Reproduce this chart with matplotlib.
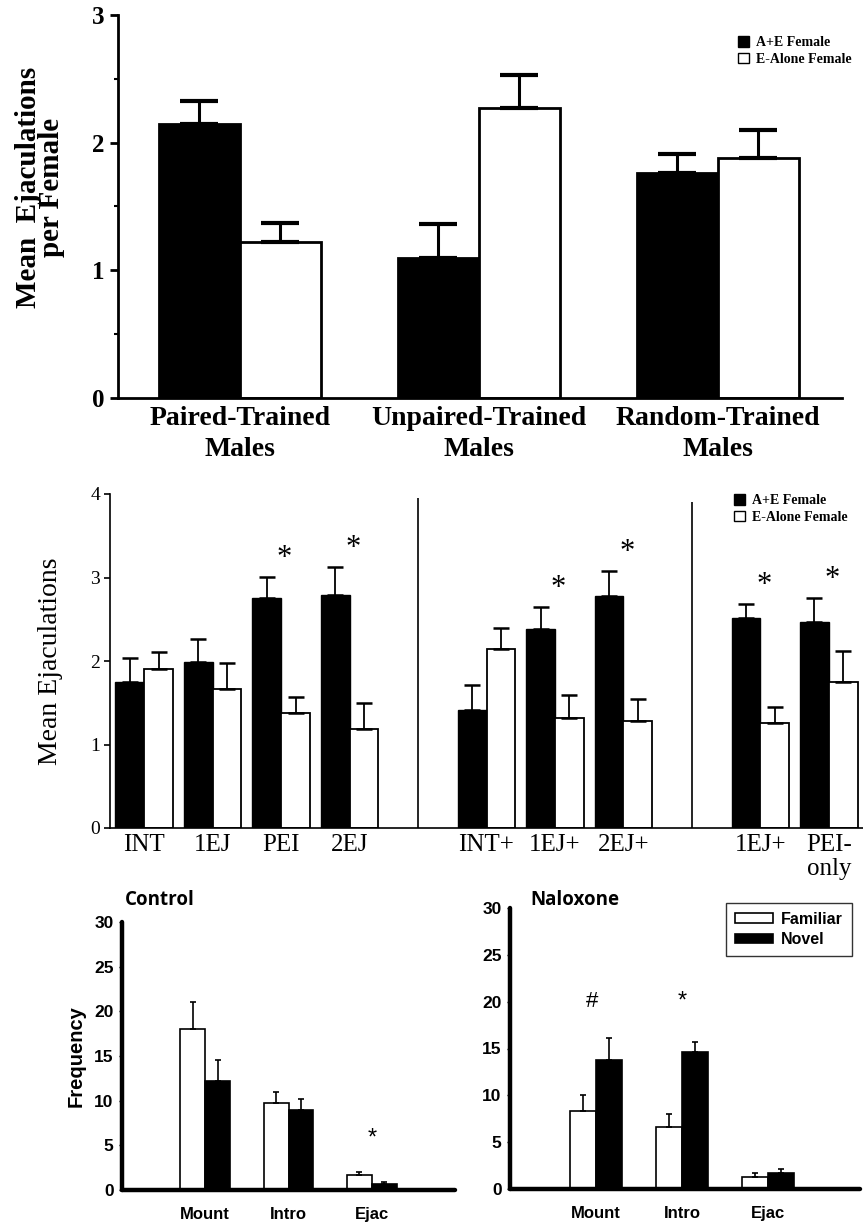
import numpy as np
import matplotlib
matplotlib.use('Agg')
import matplotlib.pyplot as plt
from matplotlib.patches import Patch

# ---------------- data ----------------
top_groups = ['Paired-Trained\nMales', 'Unpaired-Trained\nMales', 'Random-Trained\nMales']
top_ae_mean = [2.15, 1.10, 1.76]
top_ae_err = [0.18, 0.26, 0.15]
top_ea_mean = [1.22, 2.27, 1.88]
top_ea_err = [0.15, 0.26, 0.22]

mid_labels = ['INT', '1EJ', 'PEI', '2EJ', 'INT+', '1EJ+', '2EJ+', '1EJ+', 'PEI-\nonly']
mid_blocks = [4, 3, 2]
mid_ae_mean = [1.75, 1.99, 2.76, 2.79, 1.41, 2.38, 2.78, 2.51, 2.47]
mid_ae_err = [0.28, 0.27, 0.25, 0.34, 0.30, 0.27, 0.30, 0.17, 0.29]
mid_ea_mean = [1.90, 1.67, 1.38, 1.19, 2.14, 1.32, 1.28, 1.26, 1.75]
mid_ea_err = [0.21, 0.31, 0.19, 0.31, 0.26, 0.27, 0.26, 0.19, 0.37]
mid_sig = [False, False, True, True, False, True, True, True, True]

bot_cats = ['Mount', 'Intro', 'Ejac']
ctrl_fam = [18.0, 9.7, 1.7]
ctrl_fam_err = [3.1, 1.3, 0.3]
ctrl_nov = [12.2, 9.0, 0.7]
ctrl_nov_err = [2.3, 1.2, 0.2]
nal_fam = [8.3, 6.6, 1.3]
nal_fam_err = [1.7, 1.4, 0.4]
nal_nov = [13.8, 14.6, 1.7]
nal_nov_err = [2.3, 1.1, 0.4]
ctrl_marks = ['', '', '*']
nal_marks = ['#', '*', '']

W, H = 863, 1228
fig = plt.figure(figsize=(W / 100, H / 100), dpi=100)


def rect(l, r, t, b):
    return [l / W, 1 - b / H, (r - l) / W, (b - t) / H]


SERIF = 'Liberation Serif'
SANS = 'Liberation Sans'

# ---------------- top panel ----------------
ax1 = fig.add_axes(rect(118, 842, 15, 398))
x = np.arange(len(top_groups))
bw = 0.34
ax1.bar(x - bw / 2, top_ae_mean, bw, color='black', edgecolor='black', linewidth=2)
ax1.bar(x + bw / 2, top_ea_mean, bw, color='white', edgecolor='black', linewidth=2)
ax1.errorbar(x - bw / 2, top_ae_mean, yerr=[np.zeros(3), top_ae_err], fmt='none',
             ecolor='black', elinewidth=2.2, capsize=14, capthick=3)
ax1.errorbar(x + bw / 2, top_ea_mean, yerr=[np.zeros(3), top_ea_err], fmt='none',
             ecolor='black', elinewidth=2.2, capsize=14, capthick=3)
ax1.set_xlim(-0.51, 2.52)
ax1.set_ylim(0, 3)
ax1.set_yticks([0, 1, 2, 3])
ax1.set_yticks([0.5, 1.5, 2.5], minor=True)
ax1.set_xticks(x)
ax1.set_xticklabels(top_groups, fontfamily=SERIF, fontweight='bold', fontsize=20,
                    linespacing=1.3)
for lab in ax1.get_yticklabels():
    lab.set_fontfamily(SERIF)
    lab.set_fontweight('bold')
    lab.set_fontsize(18)
ax1.tick_params(axis='x', length=0, pad=6)
ax1.tick_params(axis='y', which='major', length=6, width=2, pad=4)
ax1.tick_params(axis='y', which='minor', length=3, width=1.5)
for s in ['top', 'right']:
    ax1.spines[s].set_visible(False)
for s in ['left', 'bottom']:
    ax1.spines[s].set_linewidth(2)
fig.text(40 / W, 1 - 187 / H, 'Mean  Ejaculations\nper Female', rotation=90,
         ha='center', va='center', multialignment='center', linespacing=0.85,
         fontfamily=SERIF, fontweight='bold', fontsize=21)
handles = [Patch(facecolor='black', edgecolor='black'),
           Patch(facecolor='white', edgecolor='black')]
fig.legend(handles, ['A+E Female', 'E-Alone Female'], loc='upper left',
           bbox_to_anchor=(731 / W, 1 - 29 / H), frameon=False, borderpad=0,
           handlelength=0.8, handleheight=0.8, handletextpad=0.5, labelspacing=0.25,
           prop={'family': SERIF, 'weight': 'bold', 'size': 10})

# ---------------- middle panel ----------------
ax2 = fig.add_axes(rect(110, 863, 494, 828))
pos = []
dividers = []
start = 0
for i, b in enumerate(mid_blocks):
    pos += list(range(start, start + b))
    start += b + 1
    if i < len(mid_blocks) - 1:
        dividers.append(start - 1)
pos = np.array(pos, dtype=float)
mw = 0.42
ax2.bar(pos - mw / 2, mid_ae_mean, mw, color='black', edgecolor='black', linewidth=1)
ax2.bar(pos + mw / 2, mid_ea_mean, mw, color='white', edgecolor='black', linewidth=1.3)
ax2.errorbar(pos - mw / 2, mid_ae_mean, yerr=[np.zeros(len(pos)), mid_ae_err], fmt='none',
             ecolor='black', elinewidth=1.3, capsize=5.5, capthick=1.8)
ax2.errorbar(pos + mw / 2, mid_ea_mean, yerr=[np.zeros(len(pos)), mid_ea_err], fmt='none',
             ecolor='black', elinewidth=1.3, capsize=5.5, capthick=1.8)
ae_top = np.array(mid_ae_mean) + np.array(mid_ae_err)
for p, sig, t in zip(pos, mid_sig, ae_top):
    if sig:
        ax2.text(p + 0.05, t + 0.22, '*', ha='center', va='center', fontfamily=SERIF,
                 fontsize=22)
ax2.vlines(dividers[0], 0, 3.95, color='black', linewidth=1.2)
ax2.vlines(dividers[1], 0, 3.9, color='black', linewidth=1.2)
ax2.set_xlim(-0.5, 10.5)
ax2.set_ylim(0, 4)
ax2.set_yticks([0, 1, 2, 3, 4])
ax2.set_xticks(pos)
ax2.set_xticklabels(mid_labels, fontfamily=SERIF, fontsize=18, linespacing=1.15, va='top')
for lab in ax2.get_yticklabels():
    lab.set_fontfamily(SERIF)
    lab.set_fontsize(14)
ax2.tick_params(axis='x', length=0, pad=4)
ax2.tick_params(axis='y', length=4, width=1.2, pad=3)
for s in ['top', 'right']:
    ax2.spines[s].set_visible(False)
for s in ['left', 'bottom']:
    ax2.spines[s].set_linewidth(1.2)
ax2.set_ylabel('Mean Ejaculations', fontfamily=SERIF, fontsize=20, labelpad=20)
fig.legend(handles, ['A+E Female', 'E-Alone Female'], loc='upper left',
           bbox_to_anchor=(727 / W, 1 - 487 / H), frameon=False, borderpad=0,
           handlelength=0.8, handleheight=0.8, handletextpad=0.5, labelspacing=0.25,
           prop={'family': SERIF, 'weight': 'bold', 'size': 10})

# ---------------- bottom panels ----------------
def bottom_panel(ax, fam, fam_err, nov, nov_err, marks, xmax, title, tx):
    xb = np.arange(1, len(bot_cats) + 1)
    bw2 = 0.3
    ax.bar(xb - bw2 / 2, fam, bw2, color='white', edgecolor='black', linewidth=1.2,
           label='Familiar')
    ax.bar(xb + bw2 / 2, nov, bw2, color='black', edgecolor='black', linewidth=1.2,
           label='Novel')
    ax.errorbar(xb - bw2 / 2, fam, yerr=[np.zeros(3), fam_err], fmt='none', ecolor='black',
                elinewidth=1.2, capsize=2.5, capthick=1.2)
    ax.errorbar(xb + bw2 / 2, nov, yerr=[np.zeros(3), nov_err], fmt='none', ecolor='black',
                elinewidth=1.2, capsize=2.5, capthick=1.2)
    for xi, m, f, n in zip(xb, marks, fam, nov):
        if m == '*':
            yv = 20 if max(f, n) > 5 else 5.8
            ax.text(xi, yv, '*', ha='center', va='center', fontfamily=SANS, fontsize=17)
        elif m == '#':
            ax.text(xi - 0.05, 20, '#', ha='center', va='center', fontfamily=SANS,
                    fontsize=16)
    ax.set_xlim(0, xmax)
    ax.set_ylim(0, 30)
    ax.set_yticks(range(0, 31, 5))
    ax.set_xticks(xb)
    ax.set_xticklabels(bot_cats, fontfamily=SANS, fontsize=12, fontweight='bold')
    for lab in ax.get_yticklabels():
        lab.set_fontfamily(SANS)
        lab.set_fontsize(12.5)
        lab.set_fontweight('bold')
    ax.tick_params(axis='x', length=0, pad=12)
    ax.tick_params(axis='y', length=2, width=1, pad=4)
    for s in ['top', 'right']:
        ax.spines[s].set_visible(False)
    for s in ['left', 'bottom']:
        ax.spines[s].set_linewidth(3.2)
        ax.spines[s].set_capstyle('round')
    fig.text(tx / W, 1 - 900 / H, title, ha='left', va='center', fontfamily='Open Sans',
             fontweight='bold', fontsize=13.5)


ax3 = fig.add_axes(rect(122, 455, 922, 1190))
bottom_panel(ax3, ctrl_fam, ctrl_fam_err, ctrl_nov, ctrl_nov_err, ctrl_marks, 4.0,
             'Control', 125)
ax3.set_ylabel('Frequency', fontfamily=SANS, fontsize=14.5, fontweight='bold', labelpad=6)

ax4 = fig.add_axes(rect(510, 860, 908, 1189))
bottom_panel(ax4, nal_fam, nal_fam_err, nal_nov, nal_nov_err, nal_marks, 4.07,
             'Naloxone', 530)
leg = ax4.legend(loc='upper right', bbox_to_anchor=(0.977, 1.018), borderaxespad=0,
                 fancybox=False, edgecolor='black', handlelength=2.4, handleheight=0.55,
                 labelspacing=0.35, handletextpad=0.5, borderpad=0.55,
                 prop={'family': SANS, 'size': 11.5, 'weight': 'bold'})
leg.get_frame().set_linewidth(1.0)

fig.savefig('out.png', dpi=100)
